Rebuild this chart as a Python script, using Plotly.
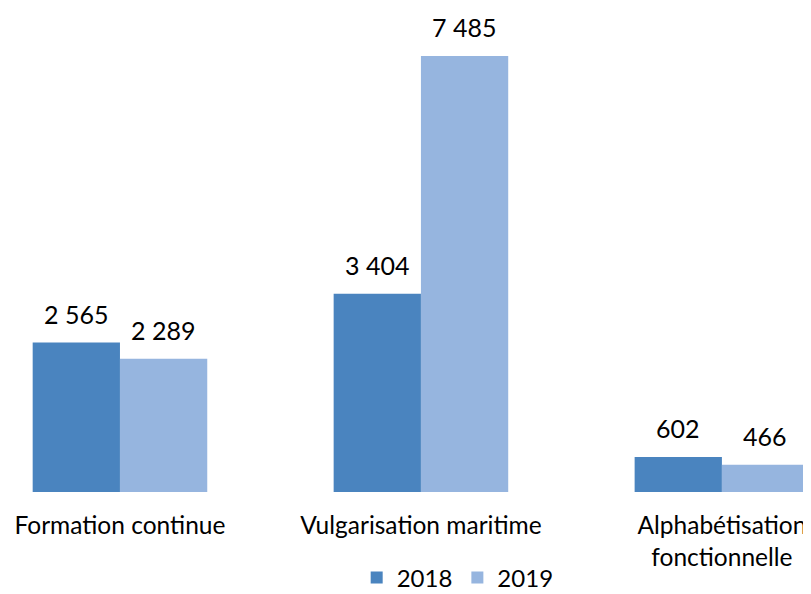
import plotly.graph_objects as go

categories = ["Formation continue", "Vulgarisation maritime", "Alphabétisation<br>fonctionnelle"]
series_names = ["2018", "2019"]
values_2018 = [2565, 3404, 602]
values_2019 = [2289, 7485, 466]
colors = ["#4A84BF", "#96B5DF"]

FONT = "Lato, 'Open Sans', sans-serif"

fig = go.Figure()
for name, vals, col in zip(series_names, [values_2018, values_2019], colors):
    fig.add_trace(go.Bar(
        x=categories, y=vals, name=name,
        marker=dict(color=col, line=dict(width=0)),
        cliponaxis=False,
    ))

# value labels above each bar
for vals, shift in zip([values_2018, values_2019], [-43.5, 43.5]):
    for cat, v in zip(categories, vals):
        fig.add_annotation(
            x=cat, y=v, xref="x", yref="y", xshift=shift, yshift=12,
            yanchor="bottom", showarrow=False,
            text=f"{v:,}".replace(",", " "),
            font=dict(size=25, color="#000000", family=FONT),
        )

fig.update_layout(
    width=803, height=586,
    barmode="group", bargap=0.42, bargroupgap=0,
    paper_bgcolor="white", plot_bgcolor="white",
    margin=dict(l=0, r=0, t=0, b=102, autoexpand=False),
    font=dict(family=FONT, size=25, color="#000000"),
    xaxis=dict(range=[-0.372, 2.296], showgrid=False, showline=False,
               ticks="outside", ticklen=12, tickcolor="white",
               tickfont=dict(size=24.5), automargin=False),
    yaxis=dict(range=[0, 8309], visible=False, automargin=False),
    legend=dict(orientation="h", x=0.56, xanchor="center", y=-0.224, yanchor="bottom",
                font=dict(size=24), itemwidth=30, traceorder="normal",
                borderwidth=0),
    showlegend=True,
)

fig.write_html("out.html")
